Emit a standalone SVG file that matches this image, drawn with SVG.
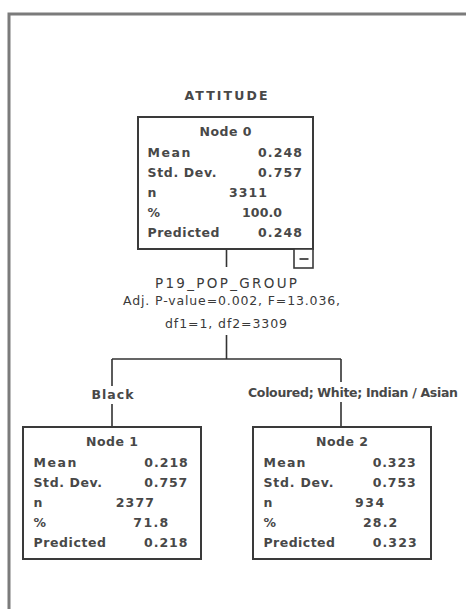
<svg xmlns="http://www.w3.org/2000/svg" width="466" height="609" viewBox="0 0 466 609">
<style>
.t{font-family:"DejaVu Sans","Liberation Sans",sans-serif;font-size:12.5px;font-weight:bold;fill:#484848;}
.r{font-family:"DejaVu Sans","Liberation Sans",sans-serif;font-size:12.5px;fill:#3a3a3a;}
.c{text-anchor:middle;}
.box{fill:#fff;stroke:#3a3a3a;stroke-width:2;}
.ln{stroke:#333;stroke-width:1.6;fill:none;}
</style>
<rect width="466" height="609" fill="#fff"/>
<path d="M9,609 V14 H466" fill="none" stroke="#7b7b7b" stroke-width="3"/>
<text class="t c" x="226" y="100" textLength="83" lengthAdjust="spacing">ATTITUDE</text>

<g id="connectors">
<path class="ln" d="M226.5,249 V267"/>
<path class="ln" d="M226.5,335 V359 M112,359 H341 M112,359 V386 M112,404 V427 M341,359 V382 M341,402 V427"/>
</g>

<g id="node0">
<rect class="box" x="138" y="117" width="175" height="132"/>
<text class="t c" x="225.5" y="136" textLength="52" lengthAdjust="spacing">Node 0</text>
<text class="t" x="147.5" y="157" textLength="43" lengthAdjust="spacing">Mean</text>
<text class="t" x="147.5" y="177" textLength="69" lengthAdjust="spacing">Std. Dev.</text>
<text class="t" x="147.5" y="197">n</text>
<text class="t" x="147.5" y="217">%</text>
<text class="t" x="147.5" y="237" textLength="72" lengthAdjust="spacing">Predicted</text>
<text class="t" x="258" y="157" textLength="44" lengthAdjust="spacing">0.248</text>
<text class="t" x="258" y="177" textLength="44" lengthAdjust="spacing">0.757</text>
<text class="t" x="229" y="197" textLength="38" lengthAdjust="spacing">3311</text>
<text class="t" x="242" y="217" textLength="40" lengthAdjust="spacing">100.0</text>
<text class="t" x="258" y="237" textLength="44" lengthAdjust="spacing">0.248</text>
<rect x="294" y="249" width="19" height="19" fill="#fff" stroke="#3a3a3a" stroke-width="1.6"/>
<path d="M299.5,259 H308.5" stroke="#555" stroke-width="2"/>
</g>

<g id="split">
<text class="r c" x="226" y="288" style="font-size:13.5px" textLength="142" lengthAdjust="spacing">P19_POP_GROUP</text>
<text class="r" x="123" y="305" textLength="217" lengthAdjust="spacing">Adj. P-value=0.002, F=13.036,</text>
<text class="r c" x="226" y="328" textLength="122" lengthAdjust="spacing">df1=1, df2=3309</text>
</g>

<g id="label1"><text class="t c" x="112.5" y="399" textLength="42" lengthAdjust="spacing">Black</text></g>
<g id="label2"><text class="t" x="248" y="397" textLength="210" lengthAdjust="spacing">Coloured; White; Indian / Asian</text></g>

<g id="node1">
<rect class="box" x="23" y="427" width="178" height="132"/>
<text class="t c" x="112" y="446" textLength="52" lengthAdjust="spacing">Node 1</text>
<text class="t" x="33.5" y="467" textLength="43" lengthAdjust="spacing">Mean</text>
<text class="t" x="33.5" y="487" textLength="68.5" lengthAdjust="spacing">Std. Dev.</text>
<text class="t" x="33.5" y="507">n</text>
<text class="t" x="33.5" y="527">%</text>
<text class="t" x="33.5" y="547" textLength="72.5" lengthAdjust="spacing">Predicted</text>
<text class="t" x="144.3" y="467" textLength="43.5" lengthAdjust="spacing">0.218</text>
<text class="t" x="144.3" y="487" textLength="43" lengthAdjust="spacing">0.757</text>
<text class="t" x="115.7" y="507" textLength="38.3" lengthAdjust="spacing">2377</text>
<text class="t" x="133.3" y="527" textLength="35" lengthAdjust="spacing">71.8</text>
<text class="t" x="144" y="547" textLength="43.5" lengthAdjust="spacing">0.218</text>
</g>

<g id="node2">
<rect class="box" x="253" y="427" width="178" height="132"/>
<text class="t c" x="342" y="446" textLength="52" lengthAdjust="spacing">Node 2</text>
<text class="t" x="263.5" y="467" textLength="42" lengthAdjust="spacing">Mean</text>
<text class="t" x="263.5" y="487" textLength="70" lengthAdjust="spacing">Std. Dev.</text>
<text class="t" x="263.5" y="507">n</text>
<text class="t" x="263.5" y="527">%</text>
<text class="t" x="263.5" y="547" textLength="71.5" lengthAdjust="spacing">Predicted</text>
<text class="t" x="372.7" y="467" textLength="43" lengthAdjust="spacing">0.323</text>
<text class="t" x="372.7" y="487" textLength="43" lengthAdjust="spacing">0.753</text>
<text class="t" x="355" y="507" textLength="29.3" lengthAdjust="spacing">934</text>
<text class="t" x="363" y="527" textLength="34.3" lengthAdjust="spacing">28.2</text>
<text class="t" x="372.7" y="547" textLength="44" lengthAdjust="spacing">0.323</text>
</g>
</svg>
